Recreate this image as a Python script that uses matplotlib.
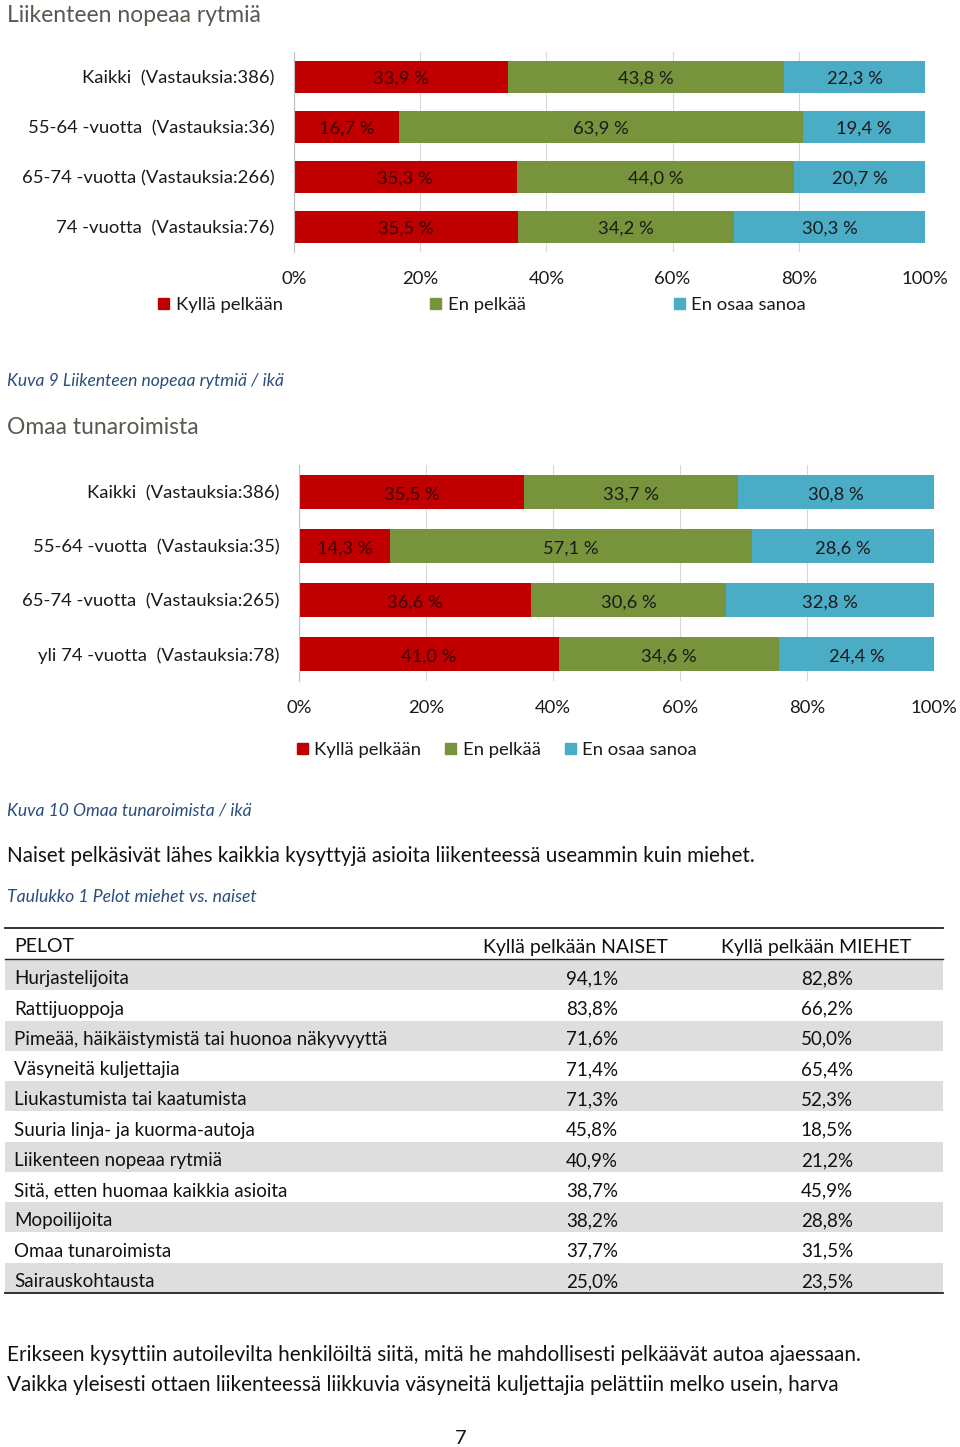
import matplotlib
matplotlib.use("Agg")
import matplotlib.pyplot as plt
from matplotlib import font_manager
from matplotlib.patches import Patch


def pick_font(names):
    # ensimmäinen asennettu fontti listasta
    for n in names:
        try:
            font_manager.findfont(n, fallback_to_default=False)
            return n
        except Exception:
            continue
    return "DejaVu Sans"


CHART_FONT = pick_font(["Lato", "Open Sans", "DejaVu Sans"])
BODY_FONT = CHART_FONT

# --- data ---
series = ["Kyllä pelkään", "En pelkää", "En osaa sanoa"]

rytmi_labels = ["Kaikki  (Vastauksia:386)", "55-64 -vuotta  (Vastauksia:36)",
                "65-74 -vuotta (Vastauksia:266)", "74 -vuotta  (Vastauksia:76)"]
rytmi_kylla = [33.9, 16.7, 35.3, 35.5]
rytmi_en = [43.8, 63.9, 44.0, 34.2]
rytmi_eos = [22.3, 19.4, 20.7, 30.3]

tunari_labels = ["Kaikki  (Vastauksia:386)", "55-64 -vuotta  (Vastauksia:35)",
                 "65-74 -vuotta  (Vastauksia:265)", "yli 74 -vuotta  (Vastauksia:78)"]
tunari_kylla = [35.5, 14.3, 36.6, 41.0]
tunari_en = [33.7, 57.1, 30.6, 34.6]
tunari_eos = [30.8, 28.6, 32.8, 24.4]

pelot = ["Hurjastelijoita", "Rattijuoppoja", "Pimeää, häikäistymistä tai huonoa näkyvyyttä",
         "Väsyneitä kuljettajia", "Liukastumista tai kaatumista", "Suuria linja- ja kuorma-autoja",
         "Liikenteen nopeaa rytmiä", "Sitä, etten huomaa kaikkia asioita", "Mopoilijoita",
         "Omaa tunaroimista", "Sairauskohtausta"]
naiset = ["94,1%", "83,8%", "71,6%", "71,4%", "71,3%", "45,8%", "40,9%", "38,7%", "38,2%", "37,7%", "25,0%"]
miehet = ["82,8%", "66,2%", "50,0%", "65,4%", "52,3%", "18,5%", "21,2%", "45,9%", "28,8%", "31,5%", "23,5%"]

colors = ["#C00000", "#77933C", "#4BACC6"]
label_colors = ["#3a0404", "#1a1a1a", "#1a1a1a"]

W, H = 960, 1447
fig = plt.figure(figsize=(W / 100, H / 100), dpi=100)


def fx(px):
    return px / W


def fy(py):
    return 1 - py / H


def stacked_chart(left, right, top, bottom, labels, values):
    ax = fig.add_axes([fx(left), fy(bottom), (right - left) / W, (bottom - top) / H])
    y = list(range(len(labels)))
    start = [0.0] * len(labels)
    for vals, col, lcol in zip(values, colors, label_colors):
        ax.barh(y, vals, left=start, height=0.64, color=col, zorder=2)
        for yi, s, v in zip(y, start, vals):
            ax.text(s + v / 2, yi + 0.04, f"{v:.1f} %".replace(".", ","), ha="center", va="center",
                    fontsize=13.2, color=lcol, family=CHART_FONT, zorder=3)
        start = [s + v for s, v in zip(start, vals)]
    ax.set_xlim(0, 100)
    ax.set_ylim(len(labels) - 0.5, -0.5)
    ax.set_yticks(y)
    ax.set_yticklabels(labels, family=CHART_FONT, fontsize=13.3, color="#1a1a1a")
    ax.set_xticks(range(0, 101, 20))
    ax.set_xticklabels([f"{t}%" for t in range(0, 101, 20)], family=CHART_FONT,
                       fontsize=13.3, color="#1a1a1a")
    ax.tick_params(axis="x", length=0, pad=14)
    ax.tick_params(axis="y", length=0, pad=14)
    ax.grid(axis="x", color="#d9d9d9", lw=0.8, zorder=0)
    for s in ["top", "right", "bottom"]:
        ax.spines[s].set_visible(False)
    ax.spines["left"].set_color("#bfbfbf")
    ax.spines["left"].set_zorder(4)
    return ax


def legend(cx, cy, gap):
    handles = [Patch(color=c, label=s) for c, s in zip(colors, series)]
    fig.legend(handles=handles, loc="center", bbox_to_anchor=(fx(cx), fy(cy)), ncol=3,
               frameon=False, prop={"family": CHART_FONT, "size": 13.3},
               handlelength=0.6, handleheight=0.6, handletextpad=0.35,
               columnspacing=gap, labelcolor="#1a1a1a")


# --- kuva 9 ---
fig.text(fx(7), fy(16), "Liikenteen nopeaa rytmiä", family=CHART_FONT, fontsize=16.5,
         color="#535c4e", va="center")
stacked_chart(294, 925, 52, 252, rytmi_labels, [rytmi_kylla, rytmi_en, rytmi_eos])
legend(482, 305, 8.0)
fig.text(fx(7), fy(381), "Kuva 9 Liikenteen nopeaa rytmiä / ikä", family=CHART_FONT,
         style="italic", fontsize=12.6, color="#2a4d7f", va="center")

# --- kuva 10 ---
fig.text(fx(7), fy(428), "Omaa tunaroimista", family=CHART_FONT, fontsize=16.5,
         color="#535c4e", va="center")
stacked_chart(299, 934, 465, 681, tunari_labels, [tunari_kylla, tunari_en, tunari_eos])
legend(497, 750, 1.3)
fig.text(fx(7), fy(810), "Kuva 10 Omaa tunaroimista / ikä", family=CHART_FONT,
         style="italic", fontsize=12.6, color="#2a4d7f", va="center")

fig.text(fx(7), fy(856), "Naiset pelkäsivät lähes kaikkia kysyttyjä asioita liikenteessä useammin kuin miehet.",
         family=BODY_FONT, fontsize=14.85, color="#111111", va="center")
fig.text(fx(7), fy(897), "Taulukko 1 Pelot miehet vs. naiset", family=BODY_FONT,
         style="italic", fontsize=12.7, color="#2a4d7f", va="center")

# --- taulukko ---
tx0, tx1 = 5, 943
fig.add_artist(plt.Line2D([fx(tx0), fx(tx1)], [fy(928), fy(928)], color="#222222", lw=1.3))
fig.add_artist(plt.Line2D([fx(tx0), fx(tx1)], [fy(959), fy(959)], color="#222222", lw=1.0))
fig.text(fx(14), fy(947), "PELOT", family=BODY_FONT, fontsize=14, va="center", color="#111111")
fig.text(fx(575), fy(947), "Kyllä pelkään NAISET", family=BODY_FONT, fontsize=14,
         va="center", ha="center", color="#111111")
fig.text(fx(816), fy(947), "Kyllä pelkään MIEHET", family=BODY_FONT, fontsize=14,
         va="center", ha="center", color="#111111")

tab = fig.add_axes([fx(tx0), fy(1293), (tx1 - tx0) / W, (1293 - 960) / H])
tab.set_xlim(tx0, tx1)
tab.set_ylim(len(pelot), 0)
tab.axis("off")
for i, (p, n, m) in enumerate(zip(pelot, naiset, miehet)):
    if i % 2 == 0:
        tab.axhspan(i, i + 1, color="#dedede", lw=0)
    tab.text(14, i + 0.62, p, family=BODY_FONT, fontsize=13.5, va="center", color="#111111")
    tab.text(592, i + 0.62, n, family=BODY_FONT, fontsize=13.5, va="center", ha="center", color="#111111")
    tab.text(827, i + 0.62, m, family=BODY_FONT, fontsize=13.5, va="center", ha="center", color="#111111")
fig.add_artist(plt.Line2D([fx(tx0), fx(tx1)], [fy(1293), fy(1293)], color="#222222", lw=1.3))

fig.text(fx(7), fy(1355), "Erikseen kysyttiin autoilevilta henkilöiltä siitä, mitä he mahdollisesti pelkäävät autoa ajaessaan.",
         family=BODY_FONT, fontsize=14.95, color="#111111", va="center")
fig.text(fx(7), fy(1385), "Vaikka yleisesti ottaen liikenteessä liikkuvia väsyneitä kuljettajia pelättiin melko usein, harva",
         family=BODY_FONT, fontsize=14.95, color="#111111", va="center")
fig.text(fx(461), fy(1439), "7", family=BODY_FONT, fontsize=14.5, color="#111111",
         va="center", ha="center")

fig.savefig("out.png", dpi=100)
